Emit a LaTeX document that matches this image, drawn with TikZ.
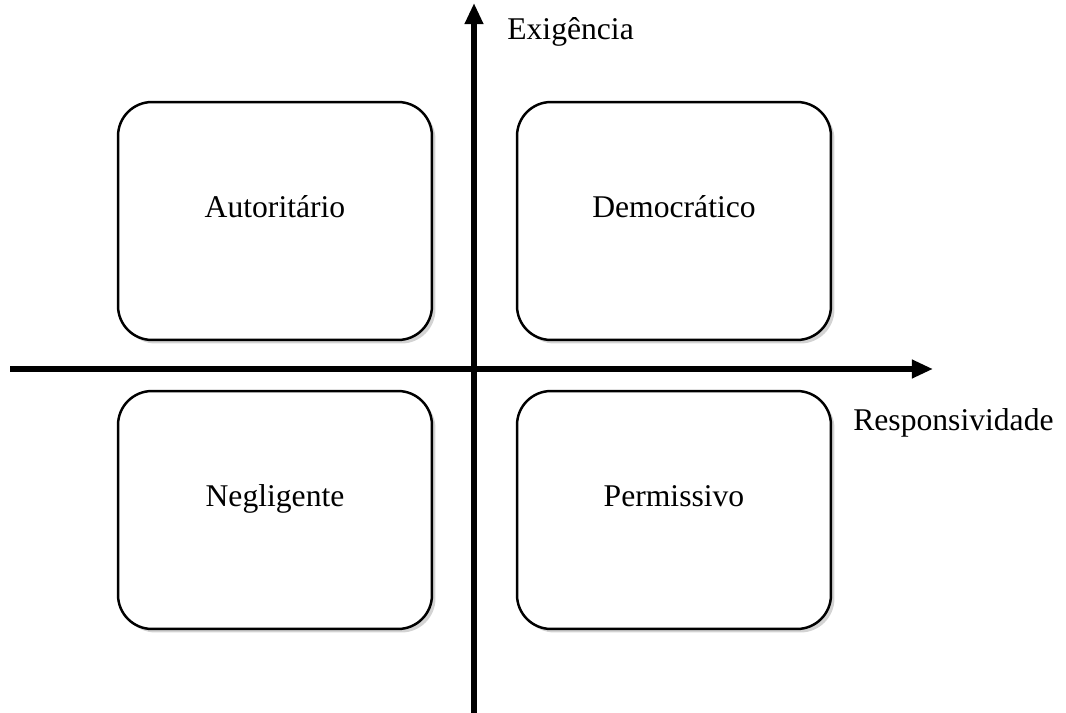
\documentclass[tikz,border=0pt]{standalone}
\usepackage{fontspec}
\setmainfont{Liberation Serif}
\usetikzlibrary{positioning,shadows,arrows.meta}

\begin{document}
\begin{tikzpicture}[x=0.02cm,y=-0.02cm,>={Triangle[length=12pt,width=10pt]}]
\tikzstyle{q}=[draw,line width=1.4pt,rounded corners=0.68cm,fill=white,
  minimum width=6.28cm,minimum height=4.76cm,text height=0.3cm,text depth=0.44cm,
  drop shadow={shadow xshift=2pt,shadow yshift=-2pt,opacity=0.35},
  font=\fontsize{18}{22}\selectfont]
\tikzstyle{lbl}=[anchor=base west,inner sep=0pt,font=\fontsize{18}{22}\selectfont]
\tikzstyle{axis}=[->,line width=3.2pt]
\useasboundingbox (0,0) rectangle (1066,713);
% axes
\coordinate (xa) at (10,369);
\coordinate (xb) at (933,369);
\coordinate (ya) at (474,713);
\coordinate (yb) at (474,3);
\draw[axis] (xa) -- (xb);
\draw[axis] (ya) -- (yb);
% quadrants
\node[q]	(aut)	at (275,221)	{Autoritário};
\node[q]	(dem)	at (674,221)	{Democrático};
\node[q]	(neg)	at (275,510)	{Negligente};
\node[q]	(per)	at (674,510)	{Permissivo};
% axis labels
\node[lbl]	(exi)	at (507,40)	{Exigência};
\node[lbl]	(res)	at (853,430)	{Responsividade};
\end{tikzpicture}
\end{document}
